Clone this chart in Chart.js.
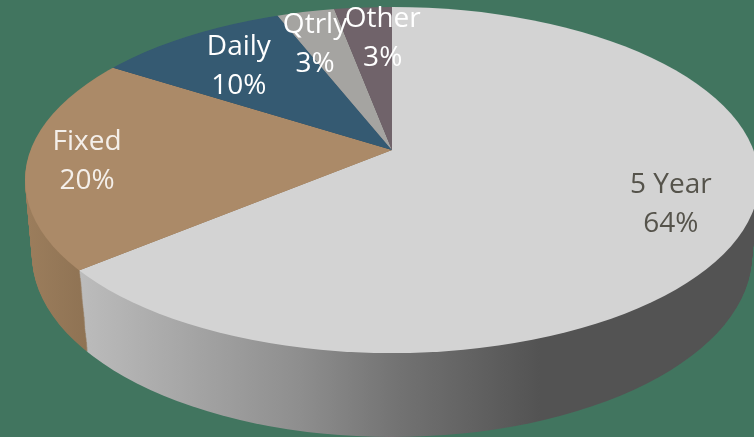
<!DOCTYPE html>
<html><head><meta charset="utf-8">
<style>html,body{margin:0;padding:0;background:#41755F;overflow:hidden}canvas{display:block}</style>
<script src="https://cdn.jsdelivr.net/npm/chart.js@4"></script>
</head><body><canvas id="c" width="754" height="437"></canvas>
<script>
const categories = ['5 Year','Fixed','Daily','Qtrly','Other'];
const shares = [64,20,10,3,3];
const topColors = ['#D3D3D3','#AB8A68','#355A72','#A5A4A1','#70636A'];
const labelColors = ['#55534B','#F4EFEA','#FFFFFF','#FFFFFF','#FFFFFF'];
const labelNudges = [[26,-1],[-26,3],[25,17],[1,19],[17,17.5]];

// 3D view of the pie
const view = {
  apex:{x:392,y:150}, depth:84, yReach:260, aspect:2.15,
  top:{x:392,y:180,rx:367,ry:173},
  bottom:{x:392,y:255,rx:360,ry:182}
};
function mapView(el,dy){
  const s=view.yReach/el.outerRadius;
  return {sx:s*view.aspect,sy:s,tx:view.apex.x-el.x*s*view.aspect,ty:view.apex.y+dy-el.y*s};
}
function wallGradient(ctx,stops){
  const g=ctx.createLinearGradient(stops[0][0],0,stops[stops.length-1][0],0);
  const a=stops[0][0],b=stops[stops.length-1][0];
  stops.forEach(s=>g.addColorStop((s[0]-a)/(b-a),s[1]));
  return g;
}
function drawLevel(ctx,meta,t,fills){
  const e={x:view.top.x,y:view.top.y+(view.bottom.y-view.top.y)*t,
    rx:view.top.rx+(view.bottom.rx-view.top.rx)*t,ry:view.top.ry+(view.bottom.ry-view.top.ry)*t};
  const m=mapView(meta.data[0],view.depth*t);
  ctx.save();
  ctx.beginPath();ctx.ellipse(e.x,e.y,e.rx,e.ry,0,0,Math.PI*2);ctx.clip();
  ctx.setTransform(m.sx,0,0,m.sy,m.tx,m.ty);
  meta.data.forEach((el,i)=>{
    const o=fills?Object.assign({},el.options,{backgroundColor:fills[i]}):el.options;
    el.draw.call(Object.create(el,{options:{value:o,writable:true}}),ctx);
  });
  ctx.restore();
}
const pie3d={
  id:'pie3d',
  beforeDatasetsDraw(chart){
    const ctx=chart.ctx,meta=chart.getDatasetMeta(0),m=mapView(meta.data[0],0);
    // gradients live in chart space because the fill happens under the view transform
    const toChart=x=>(x-m.tx)/m.sx;
    const grey=wallGradient(ctx,[[toChart(80),'#BCBCBC'],[toChart(300),'#8E8E8E'],[toChart(400),'#727272'],[toChart(540),'#535353'],[toChart(754),'#535353']]);
    const brown=wallGradient(ctx,[[toChart(28),'#9B7D5C'],[toChart(90),'#8E7253']]);
    const fills=[grey,brown,'#2B4A5E','#888785','#5B5056'];
    for(let k=view.depth;k>0;k--) drawLevel(ctx,meta,k/view.depth,fills);
    drawLevel(ctx,meta,0,null);
    return false;
  },
  afterDraw(chart){
    const ctx=chart.ctx,meta=chart.getDatasetMeta(0),m=mapView(meta.data[0],0);
    ctx.save();
    ctx.font='28px "Open Sans"';ctx.textAlign='center';ctx.textBaseline='middle';
    meta.data.forEach((el,i)=>{
      const p=el.getCenterPoint();
      const x=p.x*m.sx+m.tx+labelNudges[i][0],y=p.y*m.sy+m.ty+labelNudges[i][1];
      ctx.fillStyle=labelColors[i];
      ctx.fillText(categories[i],x,y-19.5);
      ctx.fillText(shares[i]+'%',x,y+19.5);
    });
    ctx.restore();
  }
};
new Chart(document.getElementById('c'),{
  type:'pie',
  data:{labels:categories,datasets:[{data:shares,backgroundColor:topColors,borderWidth:0}]},
  options:{responsive:false,animation:false,events:[],
    plugins:{legend:{display:false},tooltip:{enabled:false}}},
  plugins:[pie3d]
});
</script></body></html>
